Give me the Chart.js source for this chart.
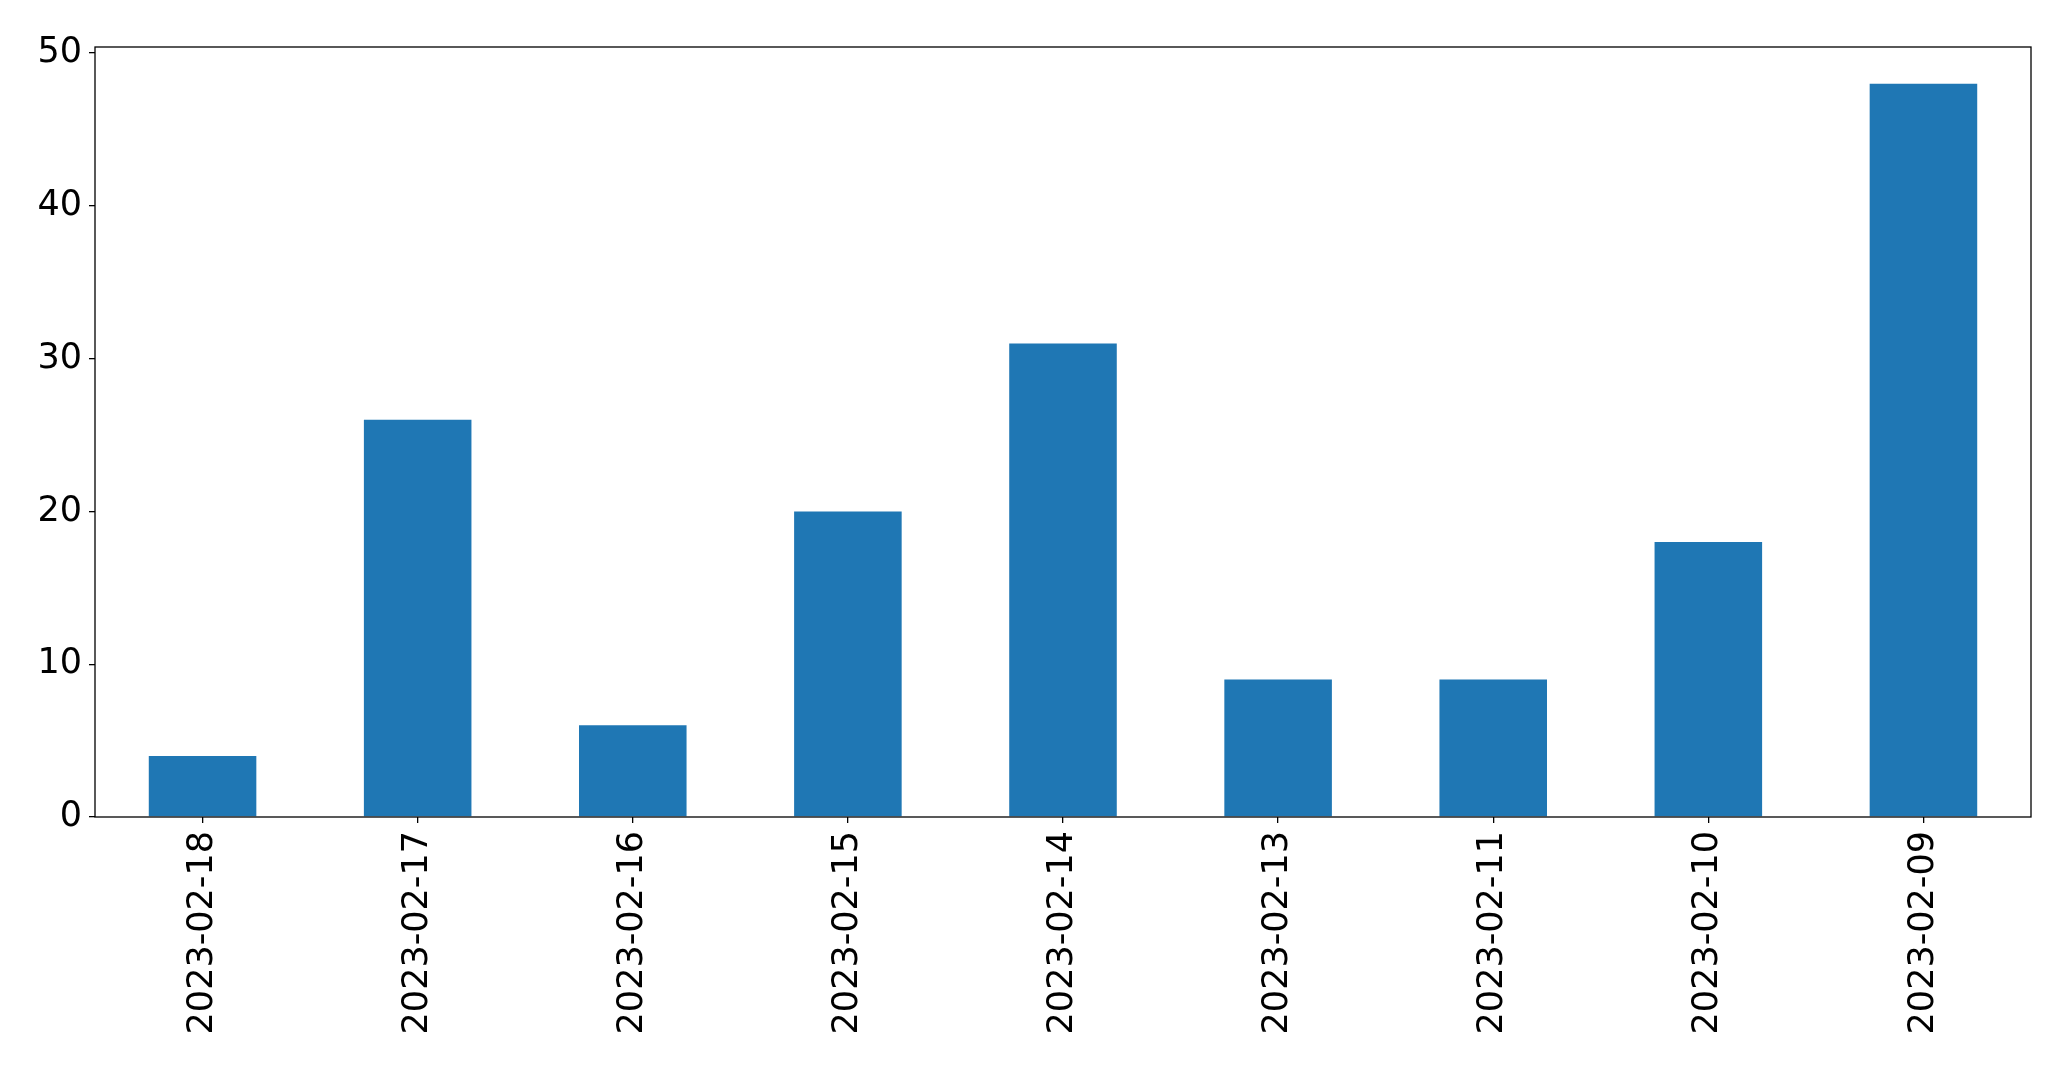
<!DOCTYPE html>
<html>
<head>
<meta charset="utf-8">
<title>Daily counts</title>
<script src="https://cdn.jsdelivr.net/npm/chart.js@4/dist/chart.umd.min.js"></script>
<style>
    html, body { margin: 0; padding: 0; background: #fff; }
    #wrap { width: 2071px; height: 1069px; position: relative; }
</style>
</head>
<body>
<div id="wrap"><canvas id="barChart"></canvas></div>
<script>
// --- Chart data ---
const dates = ['2023-02-18', '2023-02-17', '2023-02-16', '2023-02-15', '2023-02-14',
               '2023-02-13', '2023-02-11', '2023-02-10', '2023-02-09'];
const counts = [4, 26, 6, 20, 31, 9, 9, 18, 48];
const yTicks = [0, 10, 20, 30, 40, 50];

// Draws the full box round the plot area (matplotlib style spines)
const frameBox = {
    id: 'frameBox',
    afterDraw(chart) {
        const { ctx, chartArea: a } = chart;
        ctx.save();
        ctx.strokeStyle = '#000';
        ctx.lineWidth = 1.3;
        ctx.strokeRect(a.left, a.top, a.right - a.left, a.bottom - a.top);
        ctx.restore();
    }
};

const ctx = document.getElementById('barChart').getContext('2d');
new Chart(ctx, {
    type: 'bar',
    data: {
        labels: dates,
        datasets: [{
            data: counts,
            backgroundColor: '#1f77b4',
            borderWidth: 0,
            categoryPercentage: 1.0,
            barPercentage: 0.5
        }]
    },
    options: {
        responsive: true, maintainAspectRatio: false, animation: false,
        layout: { padding: { top: 47, right: 40, left: 0, bottom: 0 } },
        plugins: { legend: { display: false }, tooltip: { enabled: false } },
        scales: {
            x: {
                afterFit(axis) { axis.height = 252; },
                grid: { offset: false, drawOnChartArea: false, drawTicks: true, tickLength: 6, color: '#000', lineWidth: 1.3 },
                border: { display: false },
                ticks: {
                    color: '#000', font: { family: 'DejaVu Sans', size: 35 },
                    minRotation: 90, maxRotation: 90, padding: 8, autoSkip: false
                }
            },
            y: {
                min: 0, max: 50.4,
                afterFit(axis) { axis.width = 95; },
                afterBuildTicks(axis) { axis.ticks = yTicks.map(v => ({ value: v })); },
                grid: { drawOnChartArea: false, drawTicks: true, tickLength: 6, color: '#000', lineWidth: 1.3 },
                border: { display: false },
                ticks: {
                    color: '#000', font: { family: 'DejaVu Sans', size: 35 }, padding: 7
                }
            }
        }
    },
    plugins: [frameBox]
});
</script>
</body>
</html>
